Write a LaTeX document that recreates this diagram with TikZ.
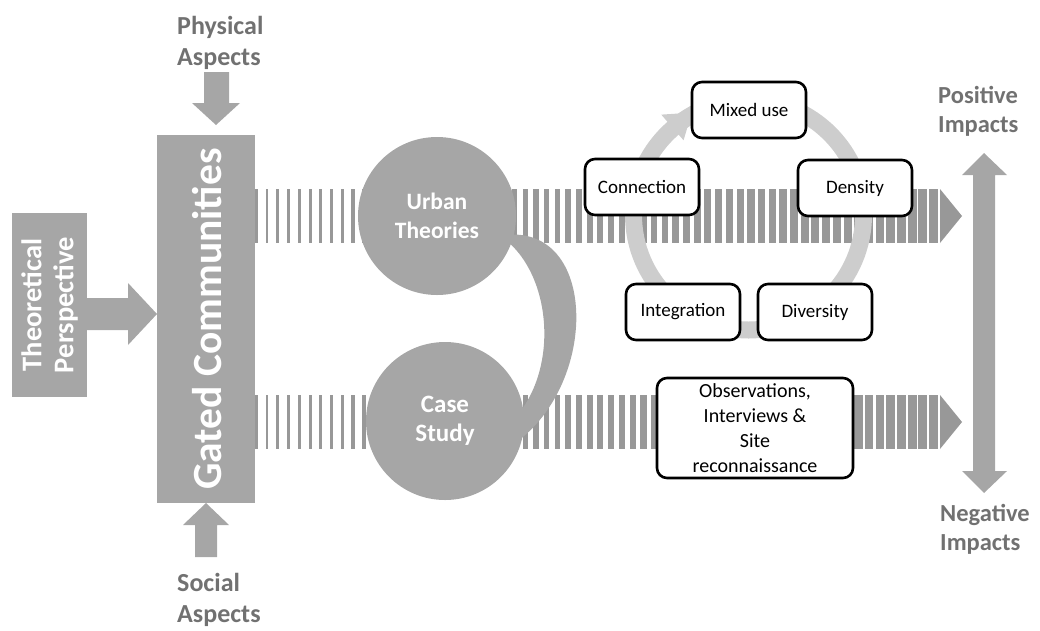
\documentclass[tikz,border=0pt]{standalone}
\usepackage{fontspec}
\setmainfont{Carlito}
\usetikzlibrary{calc}
\definecolor{shapegray}{HTML}{A6A6A6}
\definecolor{stripegray}{HTML}{989898}
\definecolor{labelgray}{HTML}{717171}
\definecolor{ringgray}{HTML}{CDCDCD}
\begin{document}
\begin{tikzpicture}[x=1pt,y=-1pt,
  block/.style={fill=shapegray,draw=none},
  stripe/.style={fill=stripegray,draw=none},
  grect/.style={fill=shapegray,draw=none,inner sep=0pt},
  gcirc/.style={circle,fill=shapegray,draw=none,inner sep=0pt,minimum size=158pt,
    text=white,align=center,font=\bfseries},
  lbl/.style={text=labelgray,font=\bfseries,align=left,inner sep=0pt},
  cbox/.style={draw=black,line width=2.6pt,rounded corners=10pt,fill=white,
    minimum width=114pt,minimum height=56pt,inner sep=2pt,align=center,
    font=\fontsize{19}{23}\selectfont},
  ring/.style={draw=ringgray,line width=17pt}
]
\useasboundingbox (0,0) rectangle (1040,630);

% striped arrows
\foreach \yt in {189,395}{
  \foreach \i in {0,...,63}{
    \pgfmathsetmacro\xx{255+\i*10.7}
    \pgfmathsetmacro\ww{10.7*(0.25+0.6*\i/63)}
    \fill[stripe] (\xx,\yt) rectangle ++(\ww,54);
  }
  \fill[stripe] (940,\yt) -- (962,{\yt+27}) -- (940,{\yt+54}) -- cycle;
}

% left part
\node[grect,minimum width=75pt,minimum height=184pt] (theo) at (49.5,305) {};
\node[rotate=90,text=white,font=\fontsize{28.5}{32}\bfseries\selectfont,align=center] (theotxt) at (theo.center) {Theoretical\\Perspective};
\node[grect,minimum width=98pt,minimum height=368pt] (gated) at (206,319) {};
\node[rotate=90,text=white,font=\fontsize{41.5}{48}\bfseries\selectfont] (gatedtxt) at (207,319) {Gated Communities};

\fill[block] (87,298) -- (128,298) -- (128,283) -- (157,314) -- (128,345) -- (128,330) -- (87,330) -- cycle;
\fill[block] (204,72) -- (229,72) -- (229,103) -- (240,103) -- (216,125) -- (192,103) -- (204,103) -- cycle;
\fill[block] (195,557) -- (217,557) -- (217,525) -- (229,525) -- (206,503) -- (183,525) -- (195,525) -- cycle;

\node[lbl,anchor=west,font=\fontsize{26}{31}\bfseries\selectfont] (phys) at (177,43) {Physical\\Aspects};
\node[lbl,anchor=west,font=\fontsize{26}{31}\bfseries\selectfont] (social) at (177,600) {Social\\Aspects};

% circles and connecting band
\fill[block] (498,236) .. controls (610,215) and (600,425) .. (480,460)
   -- (470,445) .. controls (568,420) and (565,258) .. (485,228) -- cycle;
\node[gcirc,font=\fontsize{23.5}{29}\bfseries\selectfont] (urban) at (437,216) {Urban\\Theories};
\node[gcirc,font=\fontsize{25}{29.5}\bfseries\selectfont] (case) at (445,421) {Case\\Study};

% ring
\coordinate (rc) at (748.5,215);
\draw[ring] (rc) circle[radius=115];
\fill[ringgray] ($(rc)+(241:117)$) -- ($(rc)+(229:133)$) -- ($(rc)+(229:99)$) -- cycle;

% boxes
\node[cbox] (mixed) at (749,110) {Mixed use};
\node[cbox] (conn) at (642,187) {Connection};
\node[cbox] (dens) at (855,188) {Density};
\node[cbox] (integ) at (683,312) {Integration};
\node[cbox] (div) at (815,312) {Diversity};
\node[cbox,minimum width=196pt,minimum height=100pt,inner sep=1pt,
  font=\fontsize{20}{25}\selectfont] (obs) at (755,428)
  {Observations,\\Interviews \&\\Site\\reconnaissance};

% double arrow and impacts
\fill[block] (984,153) -- (1007,175) -- (995,175) -- (995,471) -- (1007,471) -- (984,493)
  -- (962,471) -- (973,471) -- (973,175) -- (962,175) -- cycle;
\node[lbl,anchor=west,font=\fontsize{24.5}{29}\bfseries\selectfont] (pos) at (938,111) {Positive\\Impacts};
\node[lbl,anchor=west,font=\fontsize{24.5}{29}\bfseries\selectfont] (neg) at (940,529) {Negative\\Impacts};
\end{tikzpicture}
\end{document}
